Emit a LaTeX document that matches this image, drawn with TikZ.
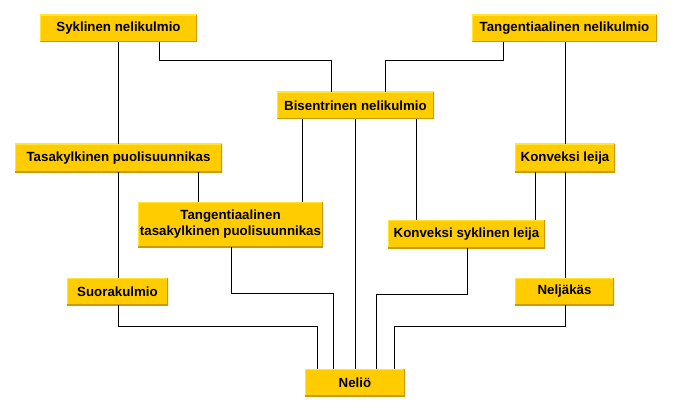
\documentclass[tikz,border=0pt]{standalone}
\usepackage{fontspec}
\setmainfont{Liberation Sans}
\definecolor{qgold}{HTML}{FFCC00}
\definecolor{qlight}{HTML}{FFE633}
\definecolor{qdark}{HTML}{C89B00}

\begin{document}
\begin{tikzpicture}[x=1pt,y=-1pt,line cap=butt,line join=miter,
  qbox/.style={fill=qgold,inner sep=0pt,align=center,
    font=\fontsize{13.3}{16}\selectfont\bfseries,
    path picture={
      \draw[qlight,line width=2pt] (path picture bounding box.south west) -- (path picture bounding box.north west) -- (path picture bounding box.north east);
      \draw[qdark,line width=2pt] (path picture bounding box.north east) -- (path picture bounding box.south east) -- (path picture bounding box.south west);
    }},
  link/.style={line width=1pt,black}]
  \useasboundingbox (0,0) rectangle (673,412);
  % boxes
  \node[qbox,minimum width=157,minimum height=27] (syk) at (118.5,28.5) {Syklinen nelikulmio};
  \node[qbox,minimum width=185,minimum height=27] (tan) at (564.5,28.5) {Tangentiaalinen nelikulmio};
  \node[qbox,minimum width=157,minimum height=27] (bis) at (355.5,105.5) {Bisentrinen nelikulmio};
  \node[qbox,minimum width=207,minimum height=28] (tasa) at (118.5,158) {Tasakylkinen puolisuunnikas};
  \node[qbox,minimum width=100,minimum height=28] (leija) at (565,158) {Konveksi leija};
  \node[qbox,minimum width=185,minimum height=45] (ttp) at (230.5,224.5) {Tangentiaalinen\\tasakylkinen puolisuunnikas};
  \node[qbox,minimum width=157,minimum height=28] (ksl) at (466.5,234) {Konveksi syklinen leija};
  \node[qbox,minimum width=101,minimum height=27] (suo) at (117.5,291.5) {Suorakulmio};
  \node[qbox,minimum width=99,minimum height=27] (nel) at (564.5,291.5) {Neljäkäs};
  \node[qbox,minimum width=100,minimum height=27] (nelio) at (355,382.5) {Neliö};
  % connectors
  \draw[link] (118,0 |- syk.south) -- (118,0 |- tasa.north);
  \draw[link] (118,0 |- tasa.south) -- (118,0 |- suo.north);
  \draw[link] (118,0 |- suo.south) -- (118,326) -| (317,0 |- nelio.north);
  \draw[link] (159,0 |- syk.south) -- (159,61) -| (331,0 |- bis.north);
  \draw[link] (503,0 |- tan.south) -- (503,61) -| (385,0 |- bis.north);
  \draw[link] (565,0 |- tan.south) -- (565,0 |- leija.north);
  \draw[link] (565,0 |- leija.south) -- (565,0 |- nel.north);
  \draw[link] (565,0 |- nel.south) -- (565,326) -| (394,0 |- nelio.north);
  \draw[link] (302,0 |- bis.south) -- (302,0 |- ttp.north);
  \draw[link] (355,0 |- bis.south) -- (355,0 |- nelio.north);
  \draw[link] (416,0 |- bis.south) -- (416,0 |- ksl.north);
  \draw[link] (198,0 |- tasa.south) -- (198,0 |- ttp.north);
  \draw[link] (535,0 |- leija.south) -- (535,0 |- ksl.north);
  \draw[link] (231,0 |- ttp.south) -- (231,293) -| (333,0 |- nelio.north);
  \draw[link] (467,0 |- ksl.south) -- (467,294) -| (376,0 |- nelio.north);
\end{tikzpicture}
\end{document}
